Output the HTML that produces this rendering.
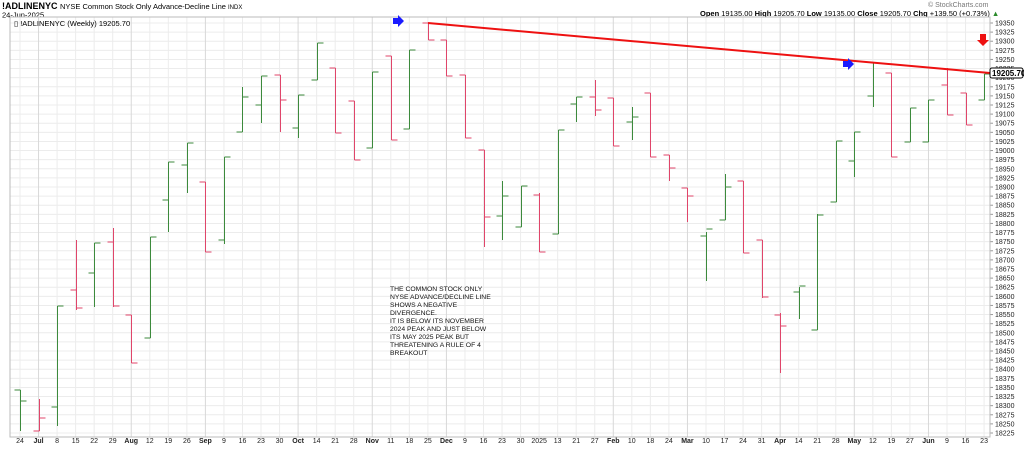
<!DOCTYPE html>
<html><head><meta charset="utf-8"><style>
body{margin:0;background:#fff;width:1024px;height:446px;overflow:hidden;font-family:"Liberation Sans",sans-serif}
svg text{font-family:"Liberation Sans",sans-serif}
</style></head><body>
<svg id="s" width="1024" height="446" xmlns="http://www.w3.org/2000/svg">
<text x="2" y="9" font-size="9" font-weight="bold" fill="#000">!ADLINENYC</text>
<text x="60" y="9" font-size="7.5" fill="#000">NYSE Common Stock Only Advance-Decline Line <tspan font-size="6">INDX</tspan></text>
<text x="2" y="17.5" font-size="7.5" fill="#000">24-Jun-2025</text>
<text x="928" y="7" font-size="7" fill="#777">© StockCharts.com</text>
<text x="700" y="16" font-size="7.5" fill="#000"><tspan font-weight="bold">Open</tspan> 19135.00 <tspan font-weight="bold">High</tspan> 19205.70 <tspan font-weight="bold">Low</tspan> 19135.00 <tspan font-weight="bold">Close</tspan> 19205.70 <tspan font-weight="bold">Chg</tspan> +139.50 (+0.73%) <tspan fill="#2a8a2a">▲</tspan></text>
<g id="grid"></g>
<rect x="10" y="17" width="980" height="420" fill="none" stroke="#bbb" stroke-width="1"/>
<g id="bars"></g>
<text x="14" y="26" font-size="7.5" fill="#000" font-family="Liberation Mono">▯ !ADLINENYC (Weekly) 19205.70</text>
<line x1="428" y1="23" x2="990" y2="73" stroke="#ee1111" stroke-width="2"/>
<polygon points="393,18 398,18 398,15 404,21 398,27 398,24 393,24" fill="#1a1aff"/>
<polygon points="843,61 848,61 848,58 854,64 848,70 848,67 843,67" fill="#1a1aff"/>
<polygon points="980,34 986,34 986,40 989,40 983,46 977,40 980,40" fill="#ee1111"/>
<g font-size="6.8" fill="#111">
<text x="390" y="291">THE COMMON STOCK ONLY</text>
<text x="390" y="299">NYSE ADVANCE/DECLINE LINE</text>
<text x="390" y="307">SHOWS A NEGATIVE</text>
<text x="390" y="315">DIVERGENCE.</text>
<text x="390" y="323">IT IS BELOW ITS NOVEMBER</text>
<text x="390" y="331">2024 PEAK AND JUST BELOW</text>
<text x="390" y="339">ITS MAY 2025 PEAK BUT</text>
<text x="390" y="347">THREATENING A RULE OF 4</text>
<text x="390" y="355">BREAKOUT</text>
</g>
<rect x="990" y="68" width="33" height="10" fill="#fff" stroke="#000" stroke-width="1" rx="2"/>
<text x="992" y="76" font-size="8" font-weight="bold">19205.70</text>
</svg>
<script>
const ns="http://www.w3.org/2000/svg";
function el(p,t,a){const e=document.createElementNS(ns,t);for(const k in a)e.setAttribute(k,a[k]);p.appendChild(e);return e;}
const g=document.getElementById('grid'),b=document.getElementById('bars');
for(let v=19350,i=0;v>=18225;v-=25,i++){const y=23+i*9.111;
 el(g,'line',{x1:10,x2:990,y1:y,y2:y,stroke:'#ececec','stroke-width':1});
 el(g,'line',{x1:990,x2:993,y1:y,y2:y,stroke:'#999','stroke-width':1});
 const t=el(g,'text',{x:995,y:y+2.5,'font-size':7,fill:'#222'});t.textContent=v;}
const labs=["24","Jul","8","15","22","29","Aug","12","19","26","Sep","9","16","23","30","Oct","14","21","28","Nov","11","18","25","Dec","9","16","23","30","2025","13","21","27","Feb","10","18","24","Mar","10","17","24","31","Apr","14","21","28","May","12","19","27","Jun","9","16","23"];
labs.forEach((l,i)=>{const x=20+18.54*i;
 el(g,'line',{x1:x,x2:x,y1:17,y2:437,stroke:isNaN(l)?'#d8d8d8':'#ececec','stroke-width':1});
 const t=el(g,'text',{x:x,y:443,'font-size':7,'text-anchor':'middle',fill:'#222','font-weight':isNaN(l)?'bold':'normal'});t.textContent=l;});
const d=[[390,431,390,401,'g'],[399,431,431,418,'r'],[306,426,407,306,'g'],[240,310,290,308,'r'],[243,307,273,243,'g'],[228,307,242,306,'r'],[315,363,315,363,'r'],[237,338,338,237,'g'],[162,232,200,162,'g'],[143,193,165,143,'g'],[182,252,182,252,'r'],[157,244,240,157,'g'],[87,132,132,97,'g'],[76,123,105,76,'g'],[75,132,75,100,'r'],[95,138,128,95,'g'],[43,80,80,43,'g'],[68,133,68,133,'r'],[101,160,101,160,'r'],[72,148,148,72,'g'],[56,140,56,140,'r'],[50,129,129,50,'g'],[23,40,23,40,'r'],[40,76,40,76,'r'],[75,138,75,138,'r'],[150,247,150,217,'r'],[181,240,216,196,'g'],[186,227,227,186,'g'],[193,252,195,252,'r'],[130,234,234,130,'g'],[97,122,104,97,'g'],[80,116,97,110,'r'],[98,146,98,146,'r'],[107,140,122,117,'g'],[93,157,93,157,'r'],[155,181,155,168,'r'],[188,222,188,196,'r'],[232,281,236,229,'g'],[174,220,220,187,'g'],[181,253,181,253,'r'],[240,298,240,297,'r'],[313,373,315,326,'r'],[287,319,292,286,'g'],[214,330,330,215,'g'],[141,202,202,141,'g'],[132,177,161,132,'g'],[63,107,96,63,'g'],[73,157,73,157,'r'],[108,142,142,108,'g'],[100,142,142,100,'g'],[68,115,85,115,'r'],[93,125,93,125,'r'],[74,100,100,74,'g']];
d.forEach((r,i)=>{const x=Math.round(20+18.54*i)+.5;const c=r[4]=='g'?'#3c8a3c':'#e0456a';
 el(b,'line',{x1:x,x2:x,y1:r[0],y2:r[1],stroke:c,'stroke-width':1});
 el(b,'line',{x1:x-6,x2:x,y1:r[2],y2:r[2],stroke:c,'stroke-width':1});
 el(b,'line',{x1:x,x2:x+6,y1:r[3],y2:r[3],stroke:c,'stroke-width':1});});
</script>
</body></html>
